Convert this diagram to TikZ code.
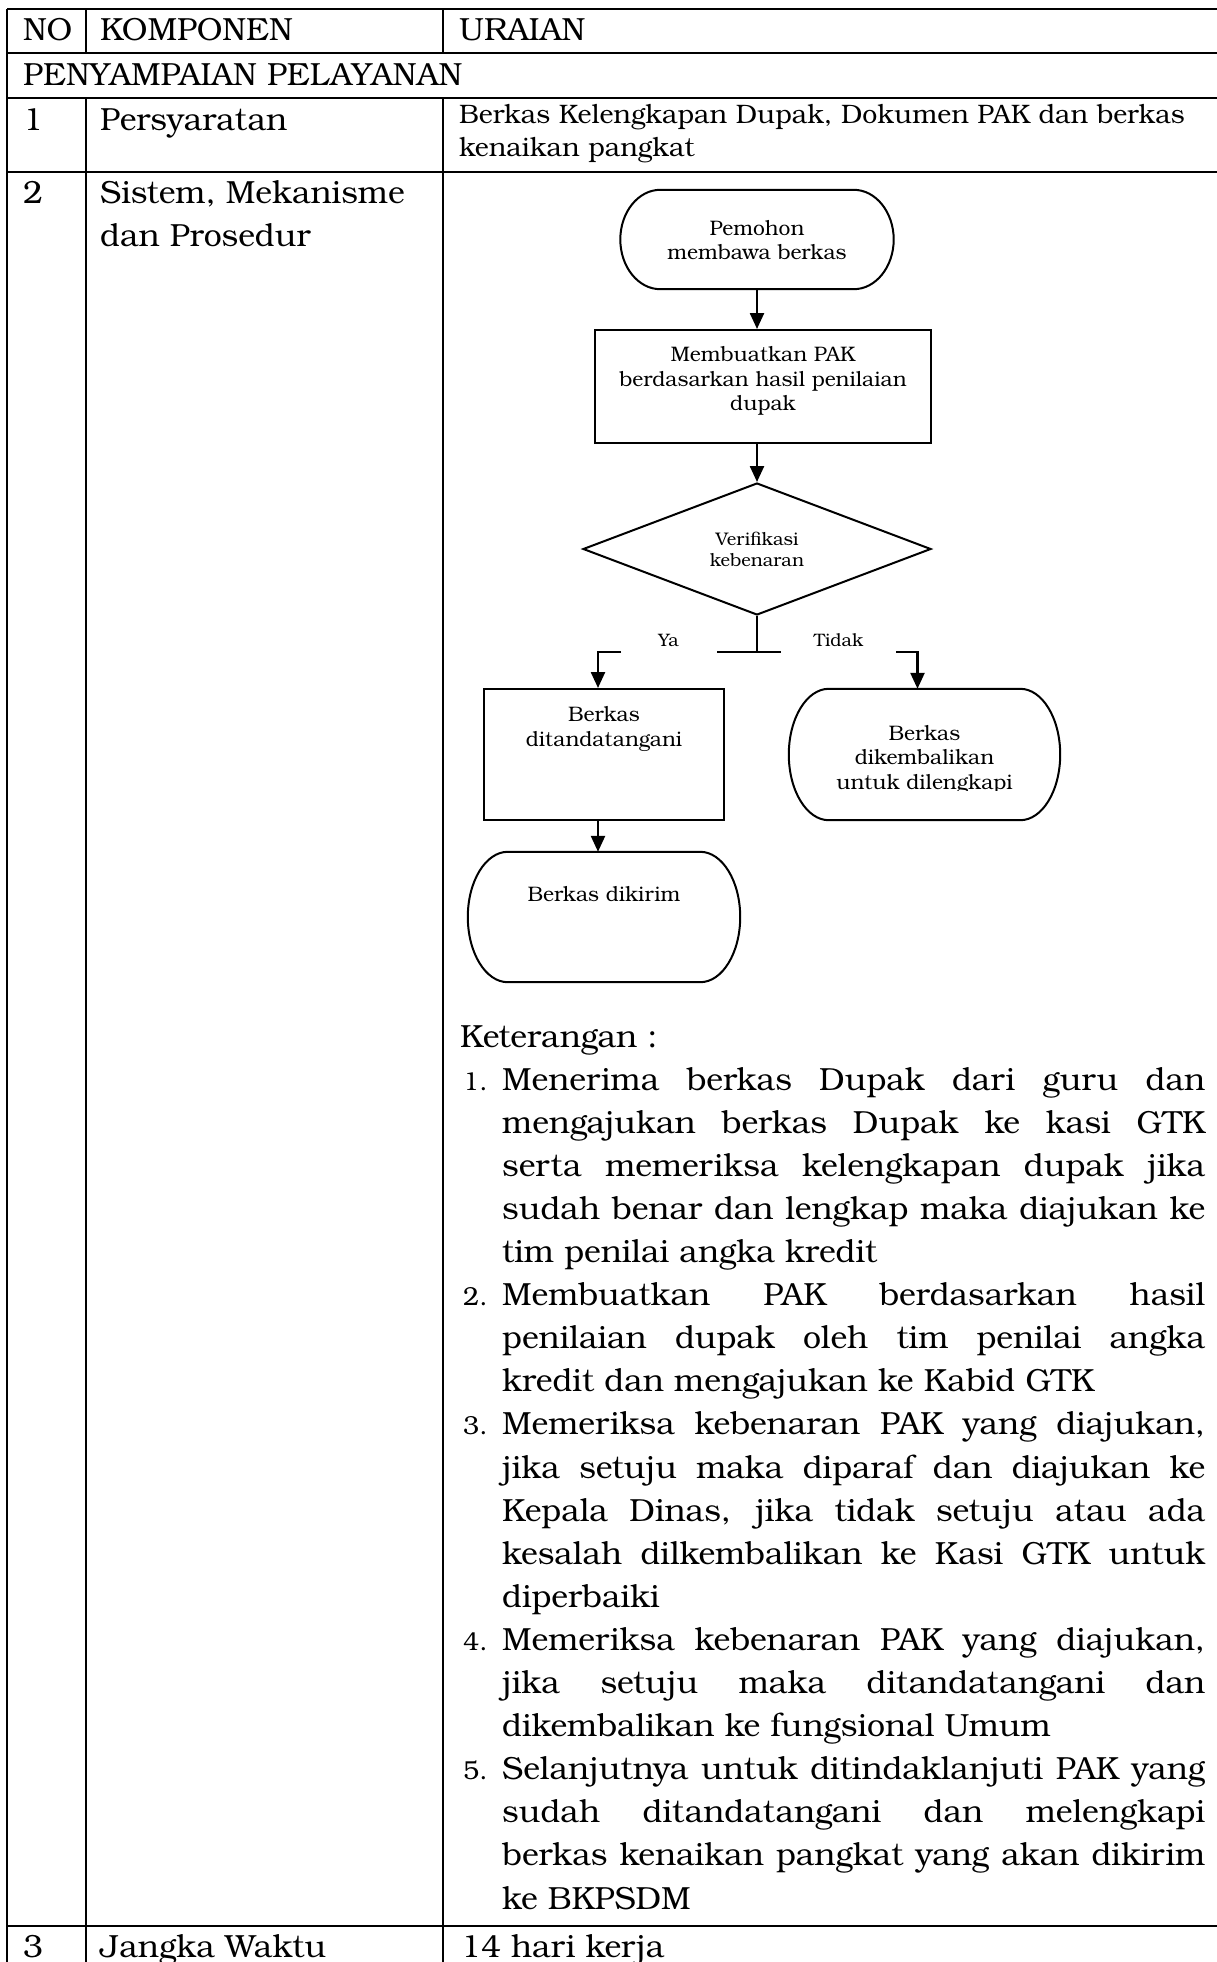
\documentclass[tikz,border=0pt]{standalone}
\usepackage{fontspec}
\setmainfont{TeX Gyre Bonum}
\usetikzlibrary{arrows.meta,shapes.geometric}
% text block inside a flowchart node: zero size, first baseline raised by #1 above node centre
\newcommand{\ftx}[2]{\makebox[0pt]{\raisebox{#1}[0pt][0pt]{\begin{tabular}[t]{@{}c@{}}#2\end{tabular}}}}
% terminator outline around node #1, #2 = vertical control offset
\newcommand{\termin}[2]{%
  \draw[fl] ([xshift=40pt]#1.north west) -- ([xshift=-40pt]#1.north east)
    .. controls ([xshift=-17.9pt]#1.north east) and ([yshift=#2]#1.east) .. (#1.east)
    .. controls ([yshift=-#2]#1.east) and ([xshift=-17.9pt]#1.south east) .. ([xshift=-40pt]#1.south east)
    -- ([xshift=40pt]#1.south west)
    .. controls ([xshift=17.9pt]#1.south west) and ([yshift=-#2]#1.west) .. (#1.west)
    .. controls ([yshift=#2]#1.west) and ([xshift=17.9pt]#1.north west) .. ([xshift=40pt]#1.north west)
    -- cycle;}
\newcommand{\kitem}[1]{\par\hangindent=42pt\hangafter=1\noindent\makebox[42pt][l]{\hspace{3pt}{\fontsize{26}{43.1}\selectfont #1}}}
\begin{document}
\begin{tikzpicture}[x=1pt,y=-1pt,
  tl/.style={line width=2.3pt},
  fl/.style={line width=2pt},
  arr/.style={line width=2.4pt,-{Triangle[length=16pt,width=14pt]}},
  fbox/.style={draw,fl,rectangle,inner sep=0pt},
  tbox/.style={rectangle,inner sep=0pt},
  ffont/.style={font=\fontsize{21}{24.5}\selectfont},
  lab/.style={inner sep=0pt,anchor=base,font=\fontsize{18}{21}\selectfont},
  main/.style={inner sep=0pt,anchor=base west,font=\fontsize{32}{43.1}\selectfont},
  small/.style={inner sep=0pt,anchor=base west,font=\fontsize{26.7}{32.7}\selectfont}]
\useasboundingbox (0,0) rectangle (1217,1962);
\fill[white] (0,0) rectangle (1217,1962);

% ---------- table grid ----------
\draw[tl] (7.3,9) -- (1217,9);
\draw[tl] (7.3,53) -- (1217,53);
\draw[tl] (7.3,97.7) -- (1217,97.7);
\draw[tl] (7.3,171.7) -- (1217,171.7);
\draw[tl] (7.3,1926) -- (1217,1926);
\draw[tl] (7.3,9) -- (7.3,1962);
\draw[tl] (85.7,9) -- (85.7,53);
\draw[tl] (85.7,97.7) -- (85.7,1962);
\draw[tl] (443,9) -- (443,53);
\draw[tl] (443,97.7) -- (443,1962);

% ---------- table texts ----------
\node[main] (hno) at (23,40.7) {NO};
\node[main] (hkomp) at (100,40.7) {KOMPONEN};
\node[main] (hur) at (459,40.7) {URAIAN};
\node[main] (sect) at (23,85) {PENYAMPAIAN PELAYANAN};
\node[main] (n1) at (23,130) {1};
\node[main] (k1) at (100,130) {Persyaratan};
\node[small] (u1) at (459,123.3) {\parbox[t]{750pt}{\raggedright Berkas Kelengkapan Dupak, Dokumen PAK dan berkas\\kenaikan pangkat}};
\node[main] (n2) at (23,203.3) {2};
\node[main] (k2) at (100,203.3) {\parbox[t]{340pt}{\raggedright Sistem, Mekanisme\\dan Prosedur}};
\node[main] (n3) at (23,1957) {3};
\node[main] (k3) at (100,1957) {Jangka Waktu};
\node[main] (u3) at (461,1957) {14 hari kerja};

% ---------- flowchart nodes ----------
\node[tbox,ffont,minimum width=273pt,minimum height=99pt] (pem) at (757,239.5)
  {\ftx{4.5pt}{Pemohon\\membawa berkas}};
\node[fbox,ffont,minimum width=336pt,minimum height=113pt] (mem) at (763,386.5)
  {\ftx{24.8pt}{Membuatkan PAK\\berdasarkan hasil penilaian\\dupak}};
\node[draw,fl,diamond,inner sep=0pt,minimum width=348pt,minimum height=132pt,
      font=\fontsize{18.2}{21.7}\selectfont] (ver) at (757,549)
  {\ftx{4pt}{Verifikasi\\kebenaran}};
\node[fbox,ffont,minimum width=240pt,minimum height=131pt] (dit) at (604,754.5)
  {\ftx{32.8pt}{Berkas\\ditandatangani}};
\begin{scope}
  \clip (770,680) rectangle (1080,790.5);
  \node[tbox,ffont,minimum width=271pt,minimum height=131pt] (ret) at (924.5,754.5)
    {\ftx{14.5pt}{Berkas\\dikembalikan\\untuk dilengkapi}};
\end{scope}
\node[tbox,ffont,minimum width=272pt,minimum height=130pt] (kir) at (604,917)
  {\ftx{15.3pt}{Berkas dikirim}};
\termin{pem}{27.3pt}
\termin{ret}{36.2pt}
\termin{kir}{35.9pt}

% ---------- connectors ----------
\draw[arr] (pem.south) -- (pem.south |- mem.north);
\draw[arr] (ver.north |- mem.south) -- (ver.north);
\coordinate (J) at ([yshift=-37pt]ver.south);
\coordinate (yaA) at (717,652);
\coordinate (yaB) at (621,652);
\coordinate (tdA) at (781,652);
\coordinate (tdB) at (896,652);
\draw[fl] (ver.south) -- (J);
\draw[fl] (yaA) -- (tdA);
\draw[arr] (yaB) -| ([xshift=-6pt]dit.north);
\draw[arr] (tdB) -| ([xshift=-7pt]ret.north);
\node[lab] (ya) at (668.5,646.7) {Ya};
\node[lab] (tidak) at (838.5,646.7) {Tidak};
\draw[arr] ([xshift=-6pt]dit.south) -- ([xshift=-6pt]dit.south |- kir.north);

% ---------- keterangan ----------
\node[main] (ket) at (460,1047) {\parbox[t]{745pt}{%
  \fontsize{32}{43.1}\selectfont
  \parindent=0pt \tolerance=10000 \hbadness=10000 \hfuzz=20pt
  \hyphenpenalty=10000 \exhyphenpenalty=10000
  \noindent Keterangan :
  \kitem{1.}Menerima berkas Dupak dari guru dan\linebreak
  mengajukan berkas Dupak ke kasi GTK\linebreak
  serta memeriksa kelengkapan dupak jika\linebreak
  sudah benar dan lengkap maka diajukan ke\linebreak
  tim penilai angka kredit
  \kitem{2.}Membuatkan PAK berdasarkan hasil\linebreak
  penilaian dupak oleh tim penilai angka\linebreak
  kredit dan mengajukan ke Kabid GTK
  \kitem{3.}Memeriksa kebenaran PAK yang diajukan,\linebreak
  jika setuju maka diparaf dan diajukan ke\linebreak
  Kepala Dinas, jika tidak setuju atau ada\linebreak
  kesalah dilkembalikan ke Kasi GTK untuk\linebreak
  diperbaiki
  \kitem{4.}Memeriksa kebenaran PAK yang diajukan,\linebreak
  jika setuju maka ditandatangani dan\linebreak
  dikembalikan ke fungsional Umum
  \kitem{5.}Selanjutnya untuk ditindaklanjuti PAK yang\linebreak
  sudah ditandatangani dan melengkapi\linebreak
  berkas kenaikan pangkat yang akan dikirim\linebreak
  ke BKPSDM\par}};
\end{tikzpicture}
\end{document}
